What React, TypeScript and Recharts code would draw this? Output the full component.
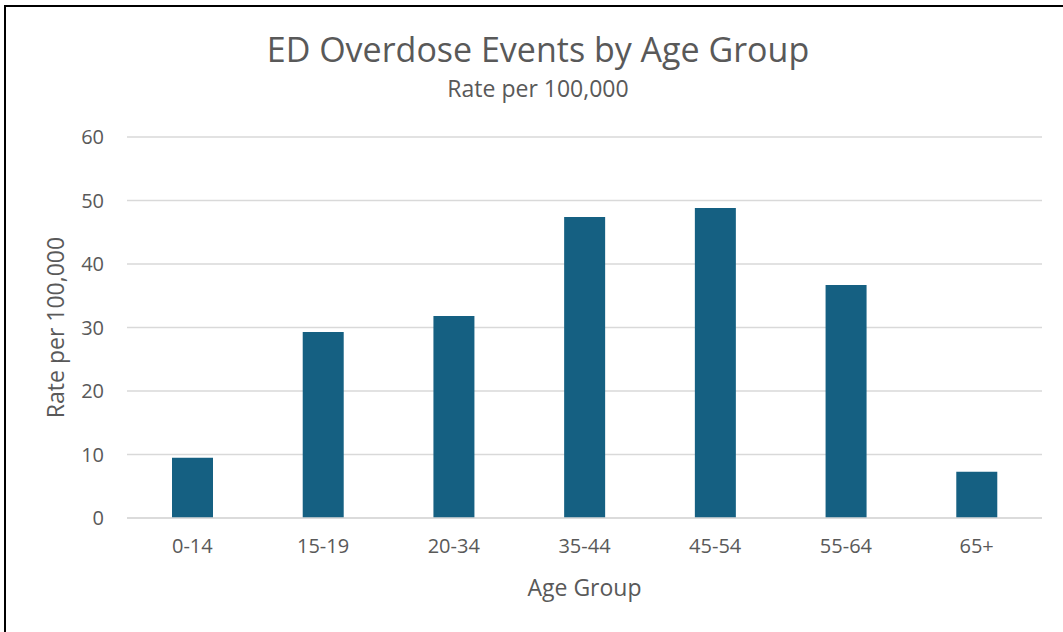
import React from "react"
import {
  BarChart,
  Bar,
  XAxis,
  YAxis,
  CartesianGrid,
} from "recharts"

const ageGroups = ["0-14", "15-19", "20-34", "35-44", "45-54", "55-64", "65+"]
const rates = [9.5, 29.3, 31.8, 47.4, 48.8, 36.7, 7.3]
const yTicks = [0, 10, 20, 30, 40, 50, 60]

const data = ageGroups.map((group, i) => ({ group, rate: rates[i] }))

const FONT = "'Open Sans', sans-serif"
const TEXT = "#595959"

export default function App() {
  return (
    <div
      style={{
        position: "absolute",
        left: 0,
        top: 0,
        width: 1063,
        height: 632,
        overflow: "hidden",
        background: "#fff",
        fontFamily: FONT,
      }}
    >
      <div
        style={{
          position: "absolute",
          left: 4,
          top: 5,
          width: 1100,
          height: 700,
          border: "2px solid #000",
        }}
      />
      <div
        style={{
          position: "absolute",
          left: 538,
          top: 32,
          transform: "translateX(-50%)",
          whiteSpace: "nowrap",
          fontSize: 34,
          lineHeight: "34px",
          color: TEXT,
        }}
      >
        ED Overdose Events by Age Group
      </div>
      <div
        style={{
          position: "absolute",
          left: 538,
          top: 77,
          transform: "translateX(-50%)",
          whiteSpace: "nowrap",
          fontSize: 23,
          lineHeight: "23px",
          color: TEXT,
        }}
      >
        Rate per 100,000
      </div>
      <div style={{ position: "absolute", left: 0, top: 0 }}>
        <BarChart
          width={1063}
          height={632}
          data={data}
          margin={{ top: 137, right: 21, left: 0, bottom: 0 }}
        >
          <CartesianGrid vertical={false} stroke="#d9d9d9" strokeWidth={1.5} />
          <XAxis
            dataKey="group"
            height={114}
            tickLine={false}
            axisLine={{ stroke: "#d9d9d9", strokeWidth: 1.5 }}
            tickMargin={15}
            tick={{ fill: TEXT, fontSize: 20, fontFamily: FONT }}
            label={{
              value: "Age Group",
              position: "center",
              dy: 13,
              fill: TEXT,
              fontSize: 23,
              fontFamily: FONT,
            }}
          />
          <YAxis
            width={127}
            domain={[0, 60]}
            ticks={yTicks}
            tickLine={false}
            axisLine={false}
            tickMargin={17}
            tick={{ fill: TEXT, fontSize: 20, fontFamily: FONT }}
            label={{
              value: "Rate per 100,000",
              angle: -90,
              position: "center",
              dx: -8,
              fill: TEXT,
              fontSize: 23,
              fontFamily: FONT,
            }}
          />
          <Bar dataKey="rate" fill="#156082" barSize={41} isAnimationActive={false} />
        </BarChart>
      </div>
    </div>
  )
}
